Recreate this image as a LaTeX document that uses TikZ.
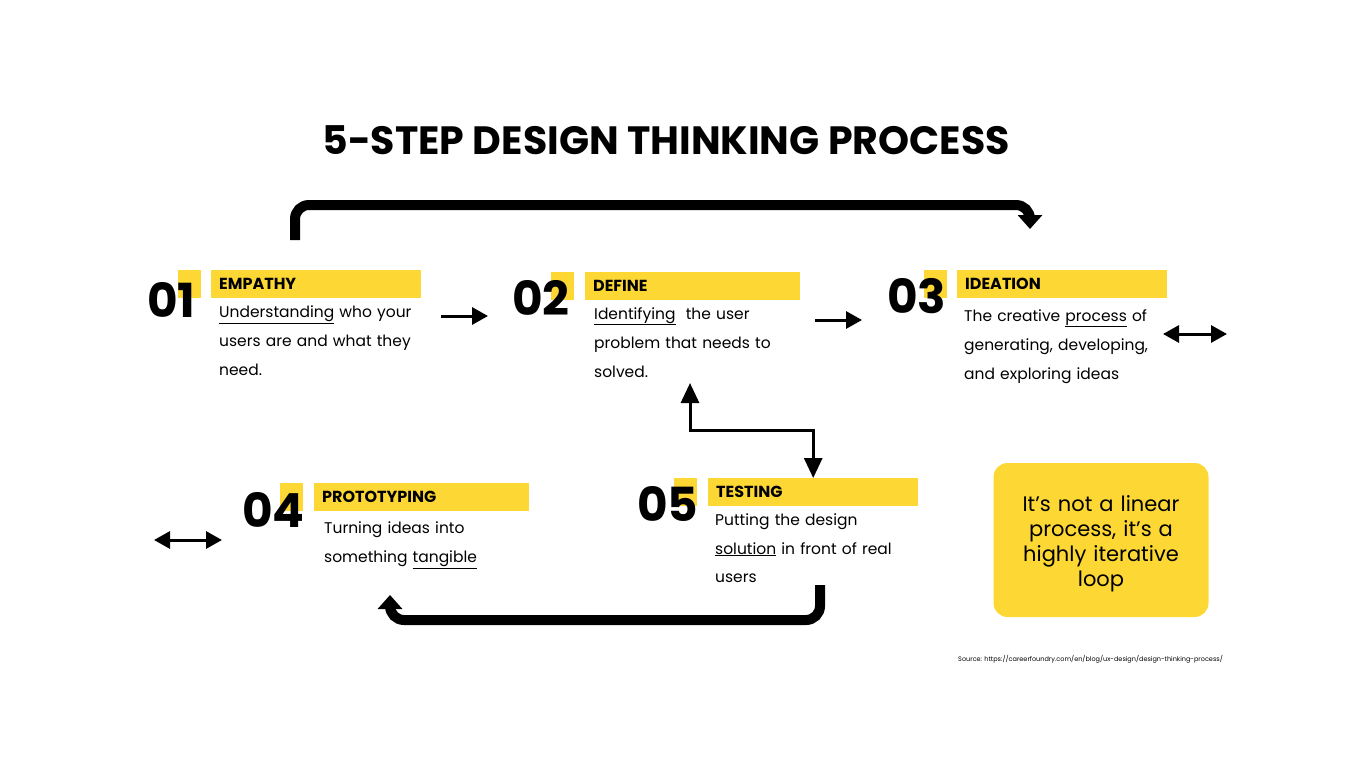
\documentclass[tikz,border=0pt]{standalone}
\usepackage{fontspec}
\setmainfont{Poppins}
\usepackage{tikz}
\usetikzlibrary{calc,shapes,positioning}
\usetikzlibrary{arrows.meta}
\definecolor{stepyellow}{RGB}{253,216,53}
\tikzset{>={Triangle[width=17pt,length=16pt]}}

\begin{document}
\begin{tikzpicture}[x=1pt,y=-1pt]
      \useasboundingbox (0,0) rectangle (1366,768);
      \begin{scope}
        \tikzstyle{numnode} = [font=\bfseries\fontsize{47}{47}\selectfont, inner sep=0pt, anchor=base west]
        \tikzstyle{sqnode} = [fill=stepyellow, minimum width=23pt, minimum height=28pt, inner sep=0pt, anchor=north west]
        \tikzstyle{hnode} = [fill=stepyellow, text width=194pt, inner xsep=8pt, inner ysep=0pt, minimum height=28pt, anchor=north west, align=left, font=\bfseries\fontsize{16}{16}\selectfont]
        \tikzstyle{bnode} = [text width=215pt, inner sep=0pt, anchor=north west, align=left, font=\fontsize{15.5}{29}\selectfont]
        \tikzstyle{flow} = [line width=3pt]
        \tikzstyle{loopline} = [line width=10pt, rounded corners=14pt, -{Triangle[width=24pt,length=14pt]}]

        \node[font=\bfseries\fontsize{39.5}{40}\selectfont] (title) at (666,140) {5-STEP DESIGN THINKING PROCESS};

        % 01
        \node[sqnode] (sq1) at (178,270) {};
        \node[numnode] (n1) at (147,317) {01};
        \node[hnode] (h1) at (211,270) {EMPATHY};
        \node[bnode] (b1) at (219,306) {\underline{Understanding} who your\\users are and what they\\need.};

        % 02
        \node[sqnode] (sq2) at (551,272) {};
        \node[numnode] (n2) at (512,315) {02};
        \node[hnode, text width=199pt] (h2) at (585,272) {DEFINE};
        \node[bnode] (b2) at (594,307) {\underline{Identifying}~ the user\\problem that needs to\\solved.};

        % 03
        \node[sqnode] (sq3) at (924,270) {};
        \node[numnode] (n3) at (887,313) {03};
        \node[hnode] (h3) at (957,270) {IDEATION};
        \node[bnode] (b3) at (964,309) {The creative \underline{process} of\\generating, developing,\\and exploring ideas};

        % 04
        \node[sqnode] (sq4) at (280,483) {};
        \node[numnode] (n4) at (242,527) {04};
        \node[hnode, text width=199pt] (h4) at (314,483) {PROTOTYPING};
        \node[bnode] (b4) at (324,522) {Turning ideas into\\something \underline{tangible}};

        % 05
        \node[sqnode] (sq5) at (674,478) {};
        \node[numnode] (n5) at (637,521) {05};
        \node[hnode] (h5) at (708,478) {TESTING};
        \node[bnode] (b5) at (715,513) {Putting the design\\\underline{solution} in front of real\\users};

        \node[fill=stepyellow, rounded corners=14pt, minimum width=215pt, minimum height=154pt, text width=190pt, align=center, font=\fontsize{21}{25}\selectfont] (note) at (1101,540) {\rule{0pt}{24pt}It’s not a linear\\process, it’s a\\highly iterative\\loop};

        \node[anchor=west, inner sep=0pt, font=\fontsize{6.5}{7}\selectfont] (src) at (958,659) {Source: https://careerfoundry.com/en/blog/ux-design/design-thinking-process/};

        \coordinate (a12s) at (441,316);
        \coordinate (a12e) at (488,316);
        \coordinate (a23s) at (815,320);
        \coordinate (a23e) at (862,320);
        \coordinate (d3s) at (1163,334);
        \coordinate (d3e) at (1227,334);
        \coordinate (d4s) at (154,540);
        \coordinate (d4e) at (222,540);
        \coordinate (c2) at (690,383);
        \coordinate (ls) at (295,240);
        \coordinate (le) at (1030,229);
        \coordinate (bs) at (820,585);
        \coordinate (be) at (390,595);

        \path[flow, draw]
        (a12s) edge[->] (a12e)
        (a23s) edge[->] (a23e)
        (d3s) edge[<->] (d3e)
        (d4s) edge[<->] (d4e)
        ;
        \draw[flow, {Triangle[width=18pt,length=20pt]}-{Triangle[width=18pt,length=20pt]}] (c2) -- ++(0,47) -| (h5.north);
        \draw[loopline] (ls) -- ++(0,-35) -| (le);
        \draw[loopline] (bs) -- ++(0,35) -| (be);
      \end{scope}
\end{tikzpicture}
\end{document}
